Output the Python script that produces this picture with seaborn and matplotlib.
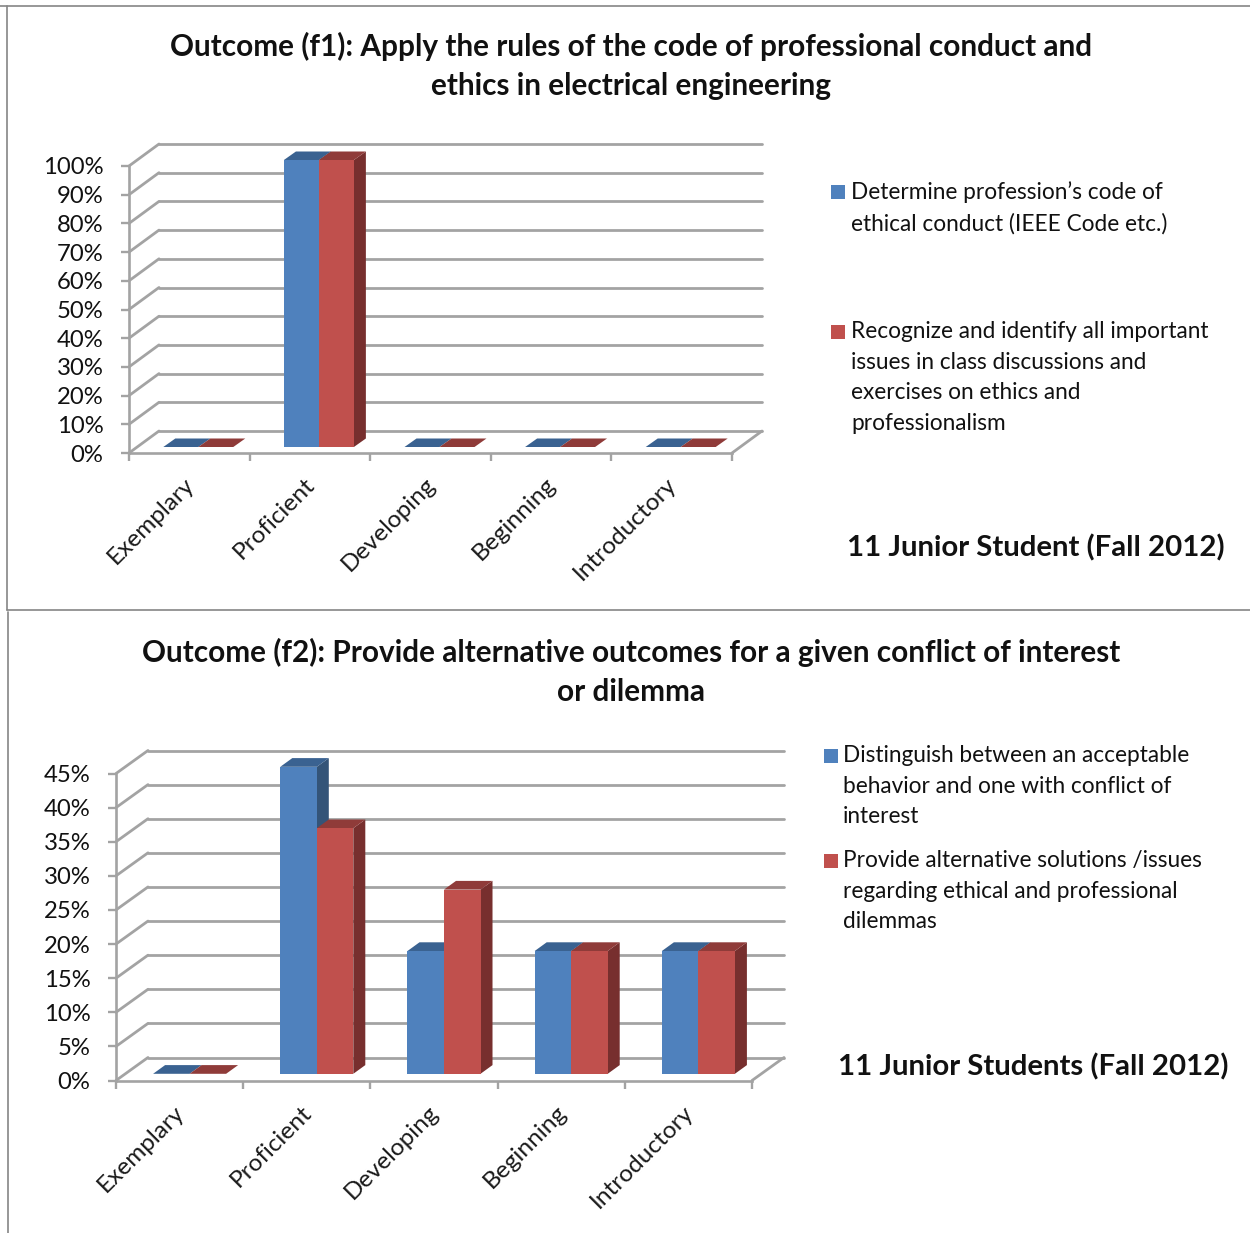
import matplotlib
matplotlib.use('Agg')
import matplotlib.pyplot as plt
import pandas as pd
import seaborn as sns
from matplotlib.lines import Line2D
from matplotlib.patches import Polygon, Rectangle

# -----------------------------------------------------------
# DATA
# -----------------------------------------------------------
categories = ['Exemplary', 'Proficient', 'Developing', 'Beginning', 'Introductory']

f1_first = [0, 100, 0, 0, 0]
f1_second = [0, 100, 0, 0, 0]
f1_ticks = [0, 10, 20, 30, 40, 50, 60, 70, 80, 90, 100]
f1_ticklabels = ['0%', '10%', '20%', '30%', '40%', '50%', '60%', '70%', '80%', '90%', '100%']

f2_first = [0, 45, 18, 18, 18]
f2_second = [0, 36, 27, 18, 18]
f2_ticks = [0, 5, 10, 15, 20, 25, 30, 35, 40, 45]
f2_ticklabels = ['0%', '5%', '10%', '15%', '20%', '25%', '30%', '35%', '40%', '45%']

f1_title = 'Outcome (f1): Apply the rules of the code of professional conduct and\nethics in electrical engineering'
f2_title = 'Outcome (f2): Provide alternative outcomes for a given conflict of interest\nor dilemma'
f1_legend = ["Determine profession\u2019s code of\nethical conduct (IEEE Code etc.)",
             "Recognize and identify all important\nissues in class discussions and\nexercises on ethics and\nprofessionalism"]
f2_legend = ["Distinguish between an acceptable\nbehavior and one with conflict of\ninterest",
             "Provide alternative solutions /issues\nregarding ethical and professional\ndilemmas"]
f1_note = '11 Junior Student (Fall 2012)'
f2_note = '11 Junior Students (Fall 2012)'

BLUE, BLUE_TOP, BLUE_SIDE = '#4F81BD', '#3A6291', '#345478'
RED, RED_TOP, RED_SIDE = '#C0504D', '#8F3B39', '#772F2E'
GRID = '#A3A3A3'
FRAME = '#858585'

W, H = 1250, 1233

sns.set_style('white')
plt.rcParams['font.family'] = ['Lato', 'DejaVu Sans']

fig = plt.figure(figsize=(W / 100, H / 100), dpi=100)


def fx(px):
    return px / W


def fy(py):
    return 1 - py / H


def px_axes(left, right, top, bottom):
    return fig.add_axes([fx(left), fy(bottom), (right - left) / W, (bottom - top) / H])


def draw_chart(first, second, ticks, ticklabels, left, right, top, bottom, back, bar_off, bar_depth, bar_width):
    ymax = ticks[-1]
    cat_px = (right - left) / 5
    val_px = (bottom - top) / ymax

    # frame axes = front plane, ticks and labels live here
    ax = px_axes(left, right, top, bottom)
    ax.set_xlim(-0.5, 4.5)
    ax.set_ylim(0, ymax)
    ax.patch.set_alpha(0)
    for side in ['top', 'right']:
        ax.spines[side].set_visible(False)
    for side in ['left', 'bottom']:
        ax.spines[side].set_color(GRID)
        ax.spines[side].set_linewidth(1.9)

    ax.set_yticks(ticks)
    ax.set_yticklabels(ticklabels, fontsize=17.2, color='#111111', va='center_baseline')
    ax.set_xticks([i - 0.5 for i in range(6)])
    ax.set_xticklabels([])
    # labels sit a bit left of the category centre in the original
    ax.set_xticks([i - 6 / cat_px for i in range(5)], minor=True)
    ax.set_xticklabels(categories, minor=True, rotation=45, ha='right', va='top',
                       rotation_mode='anchor', fontsize=17.6, color='#1a1a1a')
    ax.tick_params(axis='both', which='major', length=6, width=1.7, color=GRID, left=True, bottom=True)
    ax.tick_params(axis='y', which='major', pad=12.5)
    ax.tick_params(axis='x', which='minor', length=0, pad=15)

    # walls: side diagonals + back gridlines
    bdx = back[0] / cat_px
    bdy = back[1] / val_px
    for t in ticks:
        ax.plot([-0.5, -0.5 + bdx], [t, t + bdy], color=GRID, lw=2.0, clip_on=False, solid_capstyle='round')
        ax.plot([-0.5 + bdx, 4.5 + bdx], [t + bdy, t + bdy], color=GRID, lw=2.0, clip_on=False)
    ax.plot([4.5, 4.5 + bdx], [0, bdy], color=GRID, lw=2.0, clip_on=False)

    # bars axes = plane of the bar fronts, pushed a little into the box
    bar_ax = px_axes(left + bar_off[0], right + bar_off[0], top - bar_off[1], bottom - bar_off[1])
    table = pd.DataFrame({
        'category': categories * 2,
        'series': ['first'] * 5 + ['second'] * 5,
        'value': first + second,
    })
    sns.barplot(data=table, x='category', y='value', hue='series', order=categories,
                palette=[BLUE, RED], saturation=1, width=bar_width, gap=0, legend=False,
                linewidth=0, ax=bar_ax)
    bar_ax.set_xlim(-0.5, 4.5)
    bar_ax.set_ylim(0, ymax)
    bar_ax.axis('off')

    # fake 3d faces from the bars seaborn just drew
    ddx = bar_depth[0] / cat_px
    ddy = bar_depth[1] / val_px
    colors = [(BLUE_TOP, BLUE_SIDE, 2.0), (RED_TOP, RED_SIDE, 2.5)]
    for container, (top_c, side_c, z) in zip(bar_ax.containers, colors):
        for bar in container:
            x0, w, h = bar.get_x(), bar.get_width(), bar.get_height()
            bar.set_zorder(3)
            bar_ax.add_patch(Polygon([(x0 + w, 0), (x0 + w + ddx, ddy), (x0 + w + ddx, h + ddy), (x0 + w, h)],
                                     closed=True, fc=side_c, ec='none', zorder=z, clip_on=False))
            bar_ax.add_patch(Polygon([(x0, h), (x0 + ddx, h + ddy), (x0 + w + ddx, h + ddy), (x0 + w, h)],
                                     closed=True, fc=top_c, ec='none', zorder=z, clip_on=False))


def draw_legend(labels, colors, ys, box_x, text_x):
    for label, color, y in zip(labels, colors, ys):
        fig.add_artist(Rectangle((fx(box_x), fy(y + 7.5)), 14 / W, 14 / H, transform=fig.transFigure,
                                 fc=color, ec='none'))
        fig.text(fx(text_x), fy(y - 9.5), label, fontsize=16.3, color='#111111', va='top', ha='left',
                 linespacing=1.555)


# -----------------------------------------------------------
# CHART 1
# -----------------------------------------------------------
draw_chart(f1_first, f1_second, f1_ticks, f1_ticklabels, 129, 732, 166, 453,
           (30, 22), (9, 6), (12, 8.5), 0.58)
fig.text(fx(631), fy(66), f1_title, fontsize=21.45, fontweight='bold', ha='center', va='center',
         linespacing=1.47, color='#111111')
draw_legend(f1_legend, [BLUE, RED], [191, 331], 831, 851)
fig.text(fx(1036), fy(548), f1_note, fontsize=21.2, fontweight='bold', ha='center', va='center', color='#111111')

# -----------------------------------------------------------
# CHART 2
# -----------------------------------------------------------
draw_chart(f2_first, f2_second, f2_ticks, f2_ticklabels, 116, 752, 773.5, 1080.5,
           (32, 23), (10, 6.7), (12, 8.7), 0.574)
fig.text(fx(631), fy(672), f2_title, fontsize=21.45, fontweight='bold', ha='center', va='center',
         linespacing=1.47, color='#111111')
draw_legend(f2_legend, [BLUE, RED], [755, 860], 824, 843)
fig.text(fx(1033), fy(1067), f2_note, fontsize=21.2, fontweight='bold', ha='center', va='center', color='#111111')

# -----------------------------------------------------------
# PANEL BORDERS
# -----------------------------------------------------------
borders = [((0, 1250), (6, 6)), ((7, 7), (6, 610)), ((7, 1250), (610, 610)), ((8, 8), (612, 1233))]
for xs, ys in borders:
    fig.add_artist(Line2D([fx(x) for x in xs], [fy(y) for y in ys], color=FRAME, lw=1.2))

fig.savefig('out.png', dpi=100)
